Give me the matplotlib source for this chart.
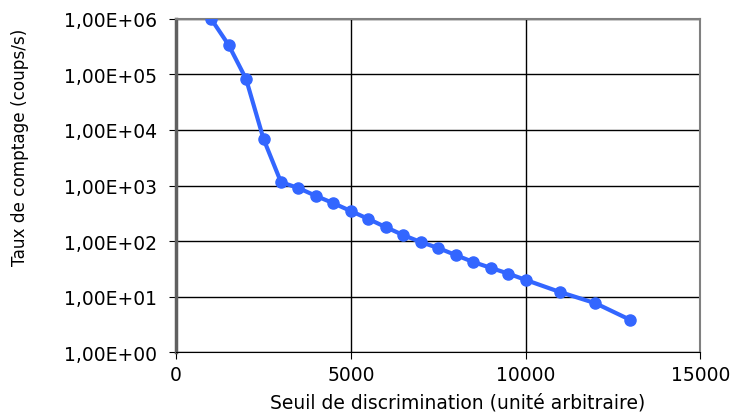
import matplotlib
matplotlib.use('Agg')
import matplotlib.pyplot as plt
from matplotlib.ticker import FixedLocator, FuncFormatter

# seuil (unite arbitraire) et taux de comptage (coups/s)
seuil = [1000, 1500, 2000, 2500, 3000, 3500, 4000, 4500, 5000, 5500, 6000,
         6500, 7000, 7500, 8000, 8500, 9000, 9500, 10000, 11000, 12000, 13000]
taux = [1.0e6, 3.4e5, 8.3e4, 6.9e3, 1.15e3, 900, 650, 480, 347, 250, 178,
        128, 96, 75, 56, 42, 33, 26, 20, 12, 7.6, 3.8]

yticks = [1e0, 1e1, 1e2, 1e3, 1e4, 1e5, 1e6]
xticks = [0, 5000, 10000, 15000]

plt.rcParams['font.family'] = ['DejaVu Sans']

fig = plt.figure(figsize=(7.34, 4.14), dpi=100)
ax = fig.add_axes([0.24, 0.147, 0.714, 0.805])

ax.plot(seuil, taux, '-o', color='#3366ff', lw=3, ms=8, zorder=3)

ax.set_yscale('log')
ax.set_xlim(0, 15000)
ax.set_ylim(1, 1e6)
ax.yaxis.set_major_locator(FixedLocator(yticks))
ax.yaxis.set_minor_locator(FixedLocator([]))
ax.xaxis.set_major_locator(FixedLocator(xticks))

def fmt(v, pos):
    s = '%.2E' % v
    return s.replace('.', ',')

ax.yaxis.set_major_formatter(FuncFormatter(fmt))
ax.tick_params(labelsize=13.5, length=5, color='black')
ax.tick_params(axis='y', pad=9)
ax.tick_params(axis='x', pad=4)

ax.grid(True, color='black', lw=1)
ax.set_axisbelow(True)

for side in ['top', 'right']:
    ax.spines[side].set_color('#808080')
    ax.spines[side].set_linewidth(1.5)
ax.spines['left'].set_color('#606060')
ax.spines['left'].set_linewidth(2.5)
ax.spines['bottom'].set_color('black')

fig.text(458/734, 1 - 403/414, 'Seuil de discrimination (unité arbitraire)',
         fontsize=13.5, ha='center', va='center')
fig.text(20/734, 1 - 147/414, 'Taux de comptage (coups/s)',
         fontsize=12.2, ha='center', va='center', rotation=90)

plt.savefig('out.png', dpi=100)
